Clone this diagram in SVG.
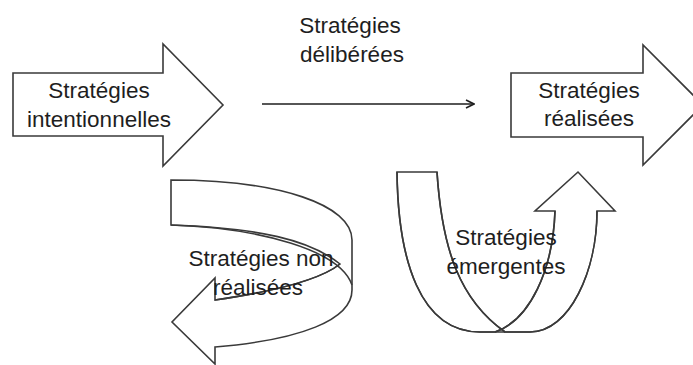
<svg xmlns="http://www.w3.org/2000/svg" width="693" height="365" viewBox="0 0 693 365">
<defs>
<style>
.shape{fill:#fff;stroke:#3a3a3a;stroke-width:1.6;stroke-linejoin:miter}
.edge{fill:none;stroke:#3a3a3a;stroke-width:1.6}
.lbl{font-family:"Liberation Sans",Arial,sans-serif;font-size:22.5px;fill:#1e1e1e;text-anchor:middle}
.conn{fill:none;stroke:#1e1e1e;stroke-width:1.6}
</style>
<marker id="ah" markerWidth="10" markerHeight="10" refX="8" refY="5" orient="auto" markerUnits="userSpaceOnUse">
<path d="M1,1 L9,5 L1,9" fill="none" stroke="#1e1e1e" stroke-width="1.6"/>
</marker>
</defs>
<rect width="693" height="365" fill="#fff"/>
<g id="intentionnelles">
<path class="shape" d="M13,73 L163,73 L163,44 L223,105 L163,166 L163,136 L13,136 Z"/>
<text class="lbl" x="99" y="98">Stratégies</text>
<text class="lbl" x="99" y="127">intentionnelles</text>
</g>
<g id="realisees">
<path class="shape" d="M511,73 L643,73 L643,45 L703,105 L643,165 L643,137 L511,137 Z"/>
<text class="lbl" x="589" y="98">Stratégies</text>
<text class="lbl" x="589" y="126">réalisées</text>
</g>
<g id="non-realisees">
<path class="shape" d="M171,180 C280,180 352,205 352,240 L352,290 C352,320 300,340 215,347 L215,364 L172,322 L215,278 L215,300 C270,292 320,280 340,264 C310,240 260,228 171,225 Z"/>
<path class="edge" d="M171,225 C260,228 340,250 352,285"/>
<path class="edge" d="M215,300 C270,292 320,280 340,264"/>
<text class="lbl" x="261" y="266">Stratégies non</text>
<text class="lbl" x="258" y="295">réalisées</text>
</g>
<g id="emergentes">
<path class="shape" d="M397,172 L437,172 C442,250 460,300 505,332 L530,332 C570,332 597,270 597,211 L615,211 L578,172 L535,211 L555,211 C553,270 530,320 495,332 L480,332 C420,332 398,260 397,172 Z"/>
<path class="edge" d="M397,172 C398,260 420,332 480,332 L530,332 C570,332 597,270 597,211"/>
<path class="edge" d="M437,172 C442,250 460,300 505,332"/>
<path class="edge" d="M555,211 C553,270 530,320 495,332"/>
<text class="lbl" x="506" y="245">Stratégies</text>
<text class="lbl" x="506" y="274">émergentes</text>
</g>
<g id="deliberees">
<text class="lbl" x="350" y="33">Stratégies</text>
<text class="lbl" x="352" y="62">délibérées</text>
</g>
<g id="connectors">
<path class="conn" d="M262,104 L473,104" marker-end="url(#ah)"/>
</g>
</svg>
